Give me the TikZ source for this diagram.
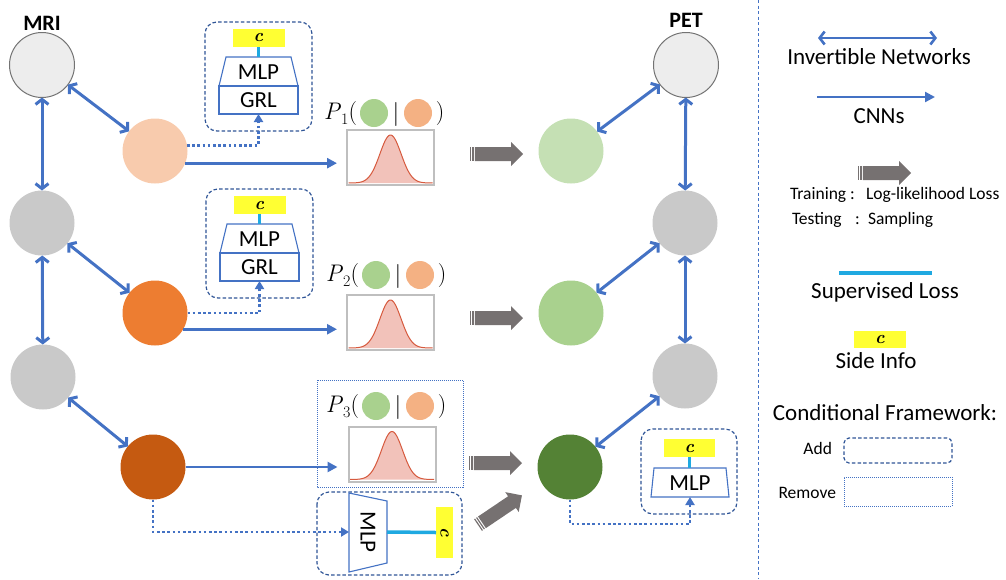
\documentclass[tikz,border=0pt]{standalone}
\usepackage{fontspec}
\setmainfont{Carlito}
\newfontfamily\lmrm{Latin Modern Roman}
\usetikzlibrary{arrows.meta,calc}

\definecolor{netblue}{HTML}{4472C4}
\definecolor{boxblue}{HTML}{2F5597}
\definecolor{lightcirc}{HTML}{EDEDED}
\definecolor{graycirc}{HTML}{C9C9C9}
\definecolor{peach}{HTML}{F8CBAD}
\definecolor{orng}{HTML}{ED7D31}
\definecolor{dorng}{HTML}{C55A11}
\definecolor{lgreen}{HTML}{C5E0B4}
\definecolor{mgreen}{HTML}{A9D18E}
\definecolor{dgreen}{HTML}{548235}
\definecolor{porange}{HTML}{F4B183}
\definecolor{fatgray}{HTML}{767171}
\definecolor{stemcyan}{HTML}{1FA9E1}
\definecolor{sideyellow}{HTML}{FFFF33}
\definecolor{gaussfill}{HTML}{F2C2BA}
\definecolor{gaussline}{HTML}{D65A3E}
\definecolor{distframe}{HTML}{BFBFBF}

% italic side-information symbol
\newcommand\sidesym{{\lmrm\itshape\bfseries c}}

% MLP + GRL block inside a dashed frame; #1 = name prefix, #2 = top-left corner
\newcommand\mlpgrl[2]{%
  \begin{scope}[shift={#2}]
    \draw[addframe] (0,0) rectangle (107,109);
    \node[sidec] (#1c) at (53.5,16) {\sidesym};
    \draw[trap] (21,35) -- (86,35) -- (93,64) -- (14,64) -- cycle;
    \node[boxtext] (#1mlp) at (53.5,50) {MLP};
    \node[grlbox] (#1grl) at (53.5,78) {GRL};
    \coordinate (#1top) at (53.5,35);
    \draw[stem] (#1c.south) -- (#1top);
  \end{scope}}

% framed Gaussian density; #1 = name, #2 = centre
\newcommand\distbox[2]{%
  \node[distnode] (#1) at #2 {};
  \begin{scope}[shift={(#1.south)}]
    \fill[gaussfill] (-42,-2) -- plot[domain=-42:42,samples=70,smooth] (\x,{-2-48*exp(-\x*\x/225)}) -- (42,-2) -- cycle;
    \draw[gaussline, line width=1pt] plot[domain=-42:42,samples=70,smooth] (\x,{-2-48*exp(-\x*\x/225)});
  \end{scope}}

% P_i( green | orange ) label; #1 = name prefix, #2 = index, #3 = x offset, #4 = y
\newcommand\plabel[4]{%
  \node[mathlbl, anchor=east] (#1p) at ({357+#3},{#4+1}) {{\itshape P\/}\raisebox{-5pt}{\fontsize{16}{18}\selectfont #2}(};
  \node[circle, fill=mgreen, minimum size=28pt] (#1g) at ({374+#3},#4) {};
  \node[mathlbl] (#1bar) at ({396+#3},{#4+1}) {|};
  \node[circle, fill=porange, minimum size=28pt] (#1o) at ({418+#3},#4) {};
  \node[mathlbl] (#1r) at ({440+#3},{#4+1}) {)};}

% thick gray arrow with striped tail; #1 = tail point, #2 = angle
\newcommand\fatarrow[2]{%
  \begin{scope}[shift={#1}, rotate=#2]
    \fill[fatgray] (0,-7) rectangle (1.2,7);
    \fill[fatgray] (2.4,-7) rectangle (3.6,7);
    \fill[fatgray] (4.8,-7) -- (41,-7) -- (41,-12) -- (53,0) -- (41,12) -- (41,7) -- (4.8,7) -- cycle;
  \end{scope}}

\begin{document}
\begin{tikzpicture}[x=1pt,y=-1pt,
  every node/.style={inner sep=0pt, outer sep=0pt},
  latent/.style={circle, minimum size=65pt},
  endpt/.style={latent, fill=lightcirc, draw=black!55, line width=1pt},
  inv/.style={draw=netblue, line width=3pt, {Straight Barb[length=5pt,width=13pt]}-{Straight Barb[length=5pt,width=13pt]}},
  cnn/.style={draw=netblue, line width=2.8pt, -{Triangle[length=10pt,width=10pt]}},
  sideflow/.style={draw=netblue, line width=2.8pt, dash pattern=on 2.6pt off 2.6pt, -{Triangle[length=8pt,width=9pt]}},
  addframe/.style={draw=boxblue, line width=1.2pt, dash pattern=on 3.5pt off 2.2pt, rounded corners=12pt},
  remframe/.style={draw=netblue, line width=1pt, dash pattern=on 1pt off 1pt},
  trap/.style={draw=netblue, line width=1.1pt, fill=white},
  grlbox/.style={draw=netblue, line width=1.1pt, fill=white, minimum width=79pt, minimum height=28pt, font=\fontsize{23}{28}\selectfont},
  stem/.style={draw=stemcyan, line width=3.5pt},
  sidec/.style={fill=sideyellow, minimum width=52pt, minimum height=18pt, font=\fontsize{18}{20}\selectfont},
  distnode/.style={draw=distframe, line width=2pt, minimum width=87pt, minimum height=55pt},
  boxtext/.style={font=\fontsize{23}{28}\selectfont},
  mathlbl/.style={font=\lmrm\fontsize{24}{28}\selectfont},
  legtext/.style={font=\fontsize{23}{28}\selectfont},
  smalltext/.style={font=\fontsize{17.5}{21}\selectfont},
  title/.style={font=\bfseries\fontsize{22}{26}\selectfont},
]
\useasboundingbox (0,0) rectangle (1006,579);

% ---------- latent variables ----------
\node[endpt] (mri) at (42,65) {};
\node[latent, fill=graycirc] (ml2) at (42,223) {};
\node[latent, fill=graycirc] (ml3) at (43,377) {};
\node[latent, fill=peach] (z1) at (155,151) {};
\node[latent, fill=orng] (z2) at (155,313) {};
\node[latent, fill=dorng] (z3) at (153,467) {};
\node[endpt] (pet) at (686,65) {};
\node[latent, fill=graycirc] (pl2) at (685,223) {};
\node[latent, fill=graycirc] (pl3) at (685,376) {};
\node[latent, fill=lgreen] (y1) at (571,151) {};
\node[latent, fill=mgreen] (y2) at (571,313) {};
\node[latent, fill=dgreen] (y3) at (570,467) {};

\node[title, anchor=base] (mrit) at (42,30) {MRI};
\node[title, anchor=base] (pett) at (686,27) {PET};

% ---------- invertible networks ----------
\draw[inv] (mri) -- (z1);
\draw[inv] (mri) -- (ml2);
\draw[inv] (ml2) -- (z2);
\draw[inv] (ml2) -- (ml3);
\draw[inv] (ml3) -- (z3);
\draw[inv] (pet) -- (y1);
\draw[inv] (pet) -- (pl2);
\draw[inv] (pl2) -- (y2);
\draw[inv] (pl2) -- (pl3);
\draw[inv] (pl3) -- (y3);

% ---------- conditional distributions ----------
\draw[remframe] (317,380) rectangle (463,487);
\distbox{d1}{(390.5,157.5)}
\distbox{d2}{(390.5,322.5)}
\distbox{d3}{(392,454)}
\plabel{pa}{1}{0}{113}
\plabel{pb}{2}{2}{275}
\plabel{pc}{3}{2}{406}

\draw[cnn, shorten >=10pt] (z1.-22) -- (z1.-22 -| d1.west);
\draw[cnn, shorten >=10pt] (z2.-30) -- (z2.-30 -| d2.west);
\draw[cnn, shorten >=11pt] (z3.east) -- (z3.east -| d3.west);

\fatarrow{(470,154)}{0}
\fatarrow{(470,318)}{0}
\fatarrow{(469,463)}{0}
\fatarrow{(478,525)}{34}

% ---------- side-information branches ----------
\mlpgrl{ba}{(205,22)}
\mlpgrl{bb}{(206,189)}
\draw[sideflow] (z1.10) -| (bagrl.south);
\draw[sideflow] (z2.east) -| (bbgrl.south);

\draw[addframe] (317,492) rectangle (462,575);
\draw[trap] (349,493) -- (387,501) -- (387,563) -- (349,572) -- cycle;
\node[boxtext, rotate=-90] (bcmlp) at (368,532) {MLP};
\node[sidec, minimum width=51pt, minimum height=17pt, rotate=-90] (bcc) at (444.5,532.5) {\sidesym};
\coordinate (bcin) at (349,532);
\coordinate (bcout) at (387,532);
\draw[stem] (bcout) -- (bcc.south);
\draw[sideflow] (z3.south) |- (bcin);

\draw[addframe] (641,429) rectangle (737,514);
\node[sidec, minimum width=51pt] (bdc) at (689.5,448) {\sidesym};
\draw[trap] (654,468) -- (726,468) -- (729,497) -- (651,497) -- cycle;
\node[boxtext] (bdmlp) at (690,483) {MLP};
\coordinate (bdtop) at (689.5,468);
\coordinate (bdin) at (690,497);
\coordinate (bdturn) at (0,524);
\draw[stem] (bdc.south) -- (bdtop);
\draw[sideflow] (y3.south) -- (y3.south |- bdturn) -| (bdin);

% ---------- divider ----------
\draw[netblue, line width=1pt, dash pattern=on 3pt off 2.5pt] (758,0) -- (758,579);

% ---------- legend ----------
\coordinate (invA) at (818,38);
\coordinate (invB) at (937,38);
\draw[inv, line width=2.6pt] (invA) -- (invB);
\node[legtext, anchor=base] (invt) at (879,64) {Invertible Networks};
\coordinate (cnnA) at (817,97);
\coordinate (cnnB) at (935,97);
\draw[cnn, line width=2.2pt] (cnnA) -- (cnnB);
\node[legtext, anchor=base] (cnnt) at (879,123) {CNNs};
\fatarrow{(858,173)}{0}
\node[smalltext, anchor=base west] (trn) at (790,199) {Training :};
\node[smalltext, anchor=base west] (trnl) at (866,199) {Log-likelihood Loss};
\node[smalltext, anchor=base west] (tst) at (792,224) {Testing};
\node[smalltext, anchor=base west] (tstc) at (855,224) {:};
\node[smalltext, anchor=base west] (tsts) at (868,224) {Sampling};
\coordinate (supA) at (839,273);
\coordinate (supB) at (932,273);
\draw[stem] (supA) -- (supB);
\node[legtext, anchor=base] (supt) at (885,298) {Supervised Loss};
\node[sidec, minimum height=17pt] (legc) at (880,339.5) {\sidesym};
\node[legtext, anchor=base] (sidet) at (876,368) {Side Info};
\node[legtext, anchor=base] (condt) at (885,420) {Conditional Framework:};
\node[smalltext, anchor=base east] (addt) at (832,454) {Add};
\node[draw=boxblue, line width=1.2pt, dash pattern=on 3.5pt off 2.2pt, rounded corners=5pt, minimum width=108pt, minimum height=25pt] (addkey) at (898,450.5) {};
\node[smalltext, anchor=base east] (remt) at (836,498) {Remove};
\node[remframe, minimum width=108pt, minimum height=29pt] (remkey) at (898,491.5) {};
\end{tikzpicture}
\end{document}
